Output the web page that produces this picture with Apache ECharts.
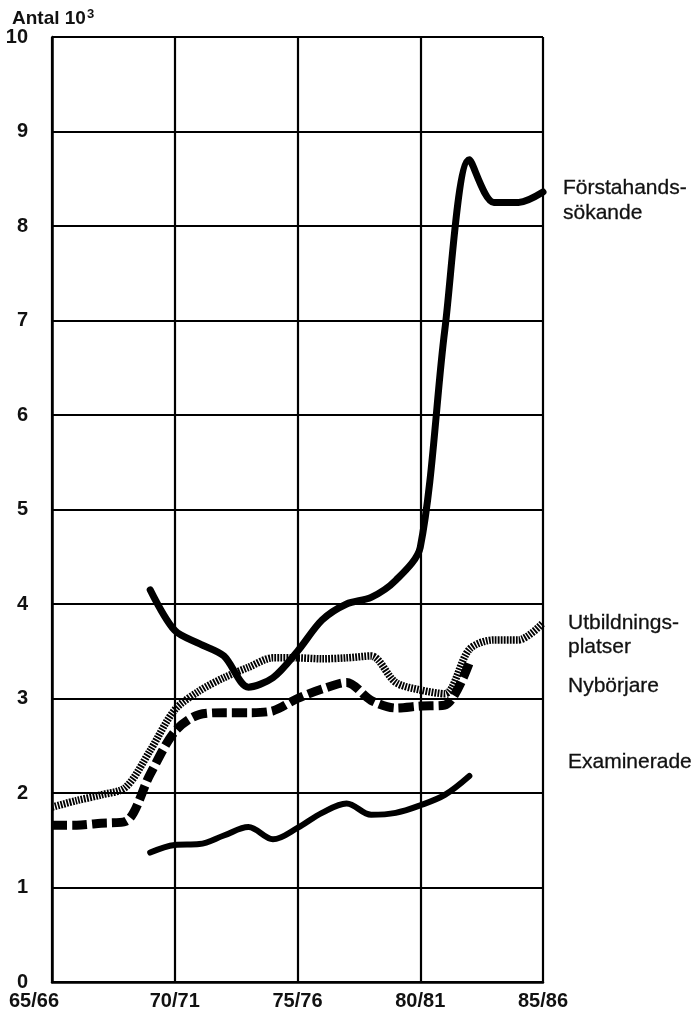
<!DOCTYPE html>
<html><head><meta charset="utf-8">
<script src="https://cdn.jsdelivr.net/npm/echarts@6/dist/echarts.min.js"></script>
<style>html,body{margin:0;padding:0;background:#fff}#c{width:699px;height:1018px}</style>
</head><body><div id="c"></div>
<script>
// Academic years, 65/66 .. 85/86
const categories = ['65/66','66/67','67/68','68/69','69/70','70/71','71/72','72/73','73/74','74/75',
  '75/76','76/77','77/78','78/79','79/80','80/81','81/82','82/83','83/84','84/85','85/86'];
const yTicks = [0,1,2,3,4,5,6,7,8,9,10];
// Values in thousands (Antal 10^3)
const forstahandssokande = [null,null,null,null,4.15,3.72,3.58,3.45,3.12,3.22,3.5,3.83,4.0,4.07,4.25,4.6,6.9,8.7,8.25,8.25,8.36];
const utbildningsplatser = [1.85,1.92,1.98,2.06,2.45,2.88,3.08,3.22,3.33,3.43,3.43,3.42,3.43,3.45,3.17,3.09,3.05,3.52,3.62,3.62,3.8];
const nyborjare = [1.66,1.66,1.68,1.70,2.2,2.65,2.83,2.85,2.85,2.87,3.0,3.1,3.17,2.98,2.9,2.92,2.93,3.38,null,null,null];
const examinerade = [null,null,null,null,1.37,1.45,1.46,1.55,1.64,1.51,1.63,1.79,1.89,1.77,1.79,1.87,1.98,2.18,null,null,null];
const seriesLabels = [
  {lines:['Förstahands-','sökande'], x:563, y:[188,213]},
  {lines:['Utbildnings-','platser'], x:568, y:[623,647]},
  {lines:['Nybörjare'], x:568, y:[686]},
  {lines:['Examinerade'], x:568, y:[762]}
];

const FONT = '"Liberation Sans", Arial, Helvetica, sans-serif';
const chart = echarts.init(document.getElementById('c'), null, {renderer:'canvas'});

const graphics = [
  {type:'text', left:12, top:8, style:{
    text:'{a|Antal 10}{s|3}',
    rich:{a:{fontFamily:FONT, fontSize:19, fontWeight:'bold', fill:'#111'},
          s:{fontFamily:FONT, fontSize:13, fontWeight:'bold', fill:'#111', verticalAlign:'top', padding:[0,0,8,1]}}
  }}
];
seriesLabels.forEach(l => l.lines.forEach((t, k) => graphics.push({
  type:'text', x:l.x, y:l.y[k], style:{text:t, fontFamily:FONT, fontSize:21, fill:'#111', verticalAlign:'middle', align:'left',
    stroke:'#111', lineWidth:0.3}
})));

chart.setOption({
  animation:false,
  backgroundColor:'#fff',
  grid:{left:52, right:156, top:37, bottom:36, containLabel:false},
  xAxis:{
    type:'category', data:categories, boundaryGap:false,
    axisLine:{show:true, lineStyle:{color:'#000', width:2.5}},
    axisTick:{show:false},
    splitLine:{show:true, interval:4, lineStyle:{color:'#000', width:2.2}},
    axisLabel:{interval:4, margin:9, color:'#111', fontFamily:FONT, fontSize:20, fontWeight:'bold',
      formatter:(v, i) => i === 0 ? '{f|' + v + '}' : v,
      rich:{f:{fontFamily:FONT, fontSize:20, fontWeight:'bold', color:'#111', padding:[0,36,0,0]}}}
  },
  yAxis:{
    type:'value', min:0, max:10, interval:1,
    axisLine:{show:true, lineStyle:{color:'#000', width:2.5}},
    axisTick:{show:false},
    splitLine:{show:true, lineStyle:{color:'#000', width:2.2}},
    axisLabel:{margin:24, color:'#111', fontFamily:FONT, fontSize:20, fontWeight:'bold',
      formatter:v => yTicks.includes(v) ? String(v) : ''}
  },
  series:[
    {name:'Utbildningsplatser', type:'line', data:utbildningsplatser, symbol:'none', smooth:0.3,
     lineStyle:{color:'#000', width:7.5, type:[1.8,1.2], cap:'butt'}},
    {name:'Nybörjare', type:'line', data:nyborjare, symbol:'none', smooth:0.3,
     lineStyle:{color:'#000', width:9, type:[15,5], cap:'butt'}},
    {name:'Examinerade', type:'line', data:examinerade, symbol:'none', smooth:0.35,
     lineStyle:{color:'#000', width:6, cap:'round', join:'round'}},
    {name:'Förstahandssökande', type:'line', data:forstahandssokande, symbol:'none', smooth:0.3,
     lineStyle:{color:'#000', width:7, cap:'round', join:'round'}}
  ],
  graphic:graphics
});
</script></body></html>
